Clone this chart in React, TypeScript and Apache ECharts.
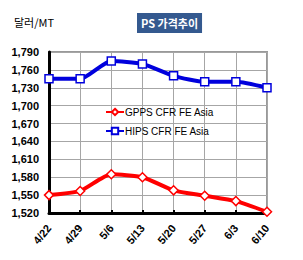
import React, { useEffect, useRef } from "react";
import * as echarts from "echarts";

const categories = ["4/22", "4/29", "5/6", "5/13", "5/20", "5/27", "6/3", "6/10"];
const gpps = [1550, 1557, 1585, 1580, 1558, 1549, 1540, 1522];
const hips = [1745, 1745, 1775, 1770, 1750, 1740, 1740, 1730];
const yMin = 1520;
const yMax = 1790;
const yStep = 30;

export default function App() {
  const ref = useRef<HTMLDivElement>(null);
  useEffect(() => {
    const chart = echarts.init(ref.current!, null, { renderer: "svg" });
    const font = "Arial, 'Liberation Sans', sans-serif";
    chart.setOption({
      animation: false,
      backgroundColor: "#ffffff",
      textStyle: { fontFamily: font },
      title: {
        text: "PS 가격추이",
        left: 137,
        top: 13,
        padding: [3, 4, 3, 4],
        backgroundColor: "#34598f",
        textStyle: { color: "#ffffff", fontSize: 11, fontWeight: "bold", fontFamily: "'Noto Sans CJK KR', sans-serif", lineHeight: 14 },
      },
      graphic: [
        {
          type: "text",
          left: 14,
          top: 16,
          style: { text: "달러/MT", fontSize: 11, fill: "#000", fontFamily: "'Noto Sans CJK KR', sans-serif" },
        },
      ],
      legend: {
        orient: "vertical",
        left: 100,
        top: 102,
        itemGap: 9,
        itemWidth: 18,
        itemHeight: 8,
        textStyle: { fontSize: 10, color: "#000", fontFamily: font, padding: [0, 0, 0, -4] },
        data: ["GPPS CFR FE Asia", "HIPS CFR FE Asia"],
      },
      grid: {
        left: 49,
        right: 36,
        top: 52,
        bottom: 47,
        show: true,
        borderColor: "#999999",
        borderWidth: 2,
        containLabel: false,
      },
      xAxis: {
        type: "category",
        data: categories,
        boundaryGap: false,
        axisLine: { lineStyle: { color: "#000", width: 3 } },
        axisTick: { show: true, length: 3, inside: true, lineStyle: { color: "#000", width: 2 } },
        splitLine: { show: true, lineStyle: { color: "#a6a6a6", width: 1 } },
        axisLabel: { rotate: 50, fontSize: 11, fontWeight: "bold", color: "#000", margin: 13 },
      },
      yAxis: {
        type: "value",
        min: yMin,
        max: yMax,
        interval: yStep,
        axisLine: { show: true, lineStyle: { color: "#000", width: 3 } },
        axisTick: { show: false },
        splitLine: { show: true, lineStyle: { color: "#a6a6a6", width: 1 } },
        axisLabel: {
          fontSize: 11,
          fontWeight: "bold",
          color: "#000",
          margin: 10,
          formatter: (v: number) => v.toLocaleString("en-US"),
        },
      },
      series: [
        {
          name: "GPPS CFR FE Asia",
          type: "line",
          data: gpps,
          smooth: 0.2,
          symbol: "diamond",
          symbolSize: 9,
          lineStyle: { color: "#ff0000", width: 4 },
          itemStyle: { color: "#ffffff", borderColor: "#ff0000", borderWidth: 1.5 },
          color: "#ff0000",
        },
        {
          name: "HIPS CFR FE Asia",
          type: "line",
          data: hips,
          smooth: 0.2,
          symbol: "rect",
          symbolSize: 8,
          lineStyle: { color: "#0000dd", width: 4 },
          itemStyle: { color: "#ffffff", borderColor: "#0000dd", borderWidth: 1.5 },
          color: "#0000dd",
        },
      ],
    });
    return () => chart.dispose();
  }, []);
  return <div ref={ref} style={{ width: 303, height: 260, position: "absolute", left: 0, top: 0 }} />;
}
